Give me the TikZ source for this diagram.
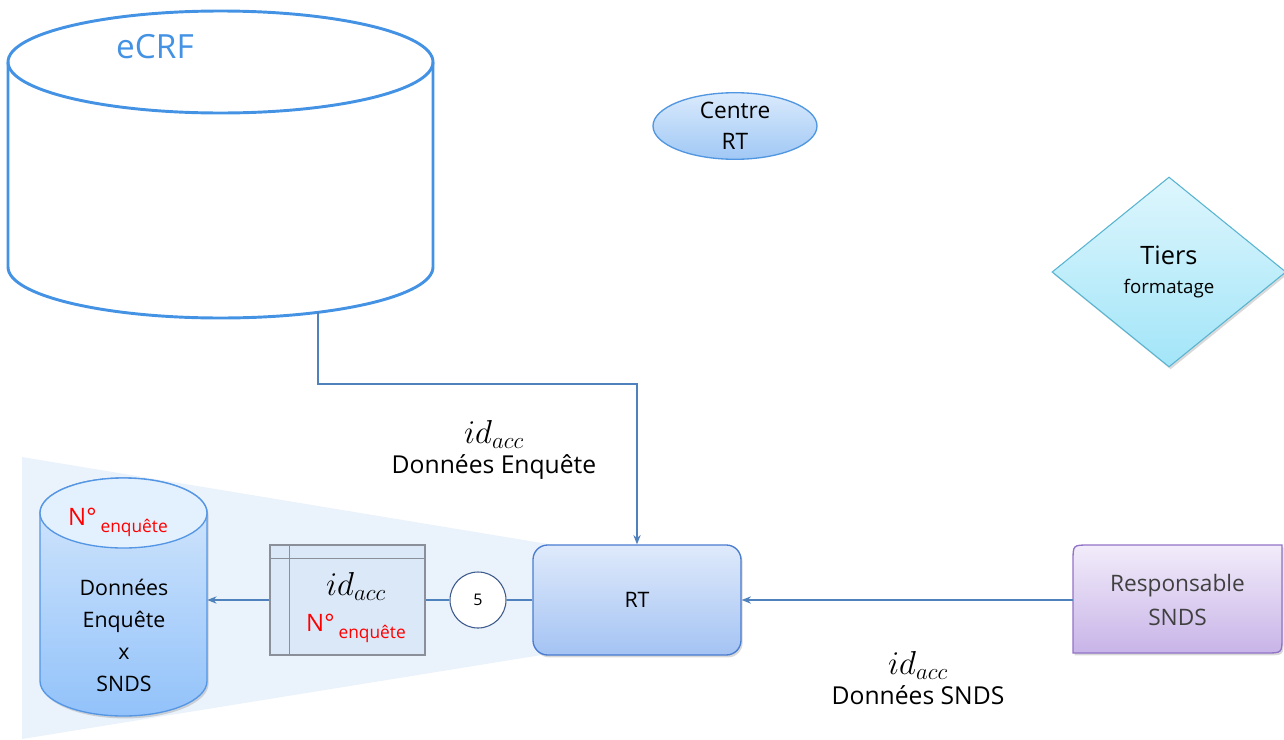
\documentclass[tikz,border=0pt]{standalone}
\usepackage{fontspec}
\setmainfont{Open Sans}
\usetikzlibrary{shapes.geometric,arrows.meta,calc,shadows}
\definecolor{ecrfblue}{RGB}{68,146,228}
\definecolor{connblue}{RGB}{79,129,189}
\definecolor{trap}{RGB}{234,242,251}
\definecolor{dbtop}{RGB}{214,232,252}
\definecolor{dbbot}{RGB}{146,194,250}
\definecolor{dbcap}{RGB}{227,240,253}
\definecolor{dbline}{RGB}{84,150,228}
\definecolor{tabfill}{RGB}{219,232,248}
\definecolor{tabline}{RGB}{138,143,153}
\definecolor{rttop}{RGB}{223,234,251}
\definecolor{rtbot}{RGB}{164,195,243}
\definecolor{rtline}{RGB}{74,124,208}
\definecolor{restop}{RGB}{242,236,250}
\definecolor{resbot}{RGB}{200,180,232}
\definecolor{resline}{RGB}{146,115,200}
\definecolor{restext}{RGB}{64,64,64}
\definecolor{dtop}{RGB}{222,246,253}
\definecolor{dbot}{RGB}{162,229,248}
\definecolor{dline}{RGB}{88,180,208}
\definecolor{ctop}{RGB}{218,234,252}
\definecolor{cbot}{RGB}{160,200,245}
\definecolor{cline}{RGB}{80,150,225}
\definecolor{circline}{RGB}{60,90,140}
\newcommand{\idacc}{{\fontsize{24}{24}\selectfont$id_{acc}$}}
\begin{document}
\begin{tikzpicture}[x=0.75pt,y=-0.75pt,
  conn/.style={draw=connblue,line width=0.9pt},
  arr/.style={conn,-{Stealth[length=7pt,width=5.5pt]}},
  shad/.style={drop shadow={shadow xshift=1.2pt,shadow yshift=-1.8pt,opacity=0.3}},
  lbl/.style={align=center,font=\fontsize{18.5}{23}\selectfont,inner sep=0pt},
  enq/.style={text=red},
]
\useasboundingbox (0,0) rectangle (1284,739);
% background trapezoid
\fill[trap] (22,457) -- (560,546) -- (560,652) -- (22,739) -- cycle;
% eCRF cylinder
\draw[ecrfblue,line width=2.2pt] (8,62) -- (8,267) arc[start angle=180,end angle=0,x radius=212.5,y radius=51] -- (433,62);
\draw[ecrfblue,line width=2.2pt] (220.5,62) ellipse[x radius=212.5,y radius=51];
\node[text=ecrfblue,font=\fontsize{25}{30}\selectfont] (ecrf) at (155,47) {eCRF};
\coordinate (ecrfout) at (318,312);
% Centre RT
\node[ellipse,draw=cline,line width=1pt,top color=ctop,bottom color=cbot,minimum width=123pt,minimum height=48pt,inner sep=0pt,align=center,font=\fontsize{17}{23}\selectfont] (centre) at (735,126) {Centre\\RT};
% Tiers diamond
\node[diamond,draw=dline,line width=0.8pt,top color=dtop,bottom color=dbot,minimum width=175.5pt,minimum height=142.5pt,inner sep=0pt,shad,align=center] (tiers) at (1169,272) {{\fontsize{19}{24}\selectfont Tiers}\\[10pt]{\fontsize{14}{16}\selectfont formatage}};
% small cylinder
\path[shad,top color=dbtop,bottom color=dbbot,draw=dbline,line width=1pt] (40,513) -- (40,681) arc[start angle=180,end angle=0,x radius=83.5,y radius=35] -- (207,513) arc[start angle=0,end angle=-180,x radius=83.5,y radius=35] -- cycle;
\draw[dbline,line width=1pt,fill=dbcap] (123.5,513) ellipse[x radius=83.5,y radius=35];
\node[inner sep=0pt,minimum width=125.25pt,minimum height=178.5pt] (db) at (123.5,597) {};
\node[enq,font=\fontsize{18}{22}\selectfont] (dbkey) at (118,522) {N°\,\raisebox{-0.55ex}{\fontsize{13}{15}\selectfont enquête}};
\node[align=center,font=\fontsize{16}{24}\selectfont] (dbtext) at (124,635) {Données\\Enquête\\x\\SNDS};
% table
\node[draw=tabline,line width=1pt,fill=tabfill,minimum width=116.25pt,minimum height=82.5pt,inner sep=0pt] (tab) at (347.5,600) {};
\draw[tabline,line width=1pt] ($(tab.north west)+(0,14)$) -- ($(tab.north east)+(0,14)$);
\draw[tabline,line width=1pt] ($(tab.north west)+(20,0)$) -- ($(tab.south west)+(20,0)$);
\node[align=center,inner sep=0pt,font=\fontsize{18}{27}\selectfont] (tabtxt) at (356,608) {\idacc\\{\color{red}N°\,\raisebox{-0.55ex}{\fontsize{13}{15}\selectfont enquête}}};
% circle 5
\node[circle,draw=circline,line width=0.8pt,fill=white,minimum size=42pt,inner sep=0pt,font=\fontsize{12}{14}\selectfont] (five) at (478,600) {5};
% RT
\node[draw=rtline,line width=1pt,rounded corners=11pt,top color=rttop,bottom color=rtbot,minimum width=156pt,minimum height=82.5pt,shad,font=\fontsize{16}{20}\selectfont] (rt) at (637,600) {RT};
% Responsable SNDS
\path[draw=resline,line width=1pt,top color=restop,bottom color=resbot,shad] (1073,653) -- (1073,561) .. controls (1073,545) .. (1089,545) -- (1282,545) -- (1282,637) .. controls (1282,653) .. (1266,653) -- cycle;
\node[align=center,text=restext,font=\fontsize{17}{25}\selectfont,minimum width=156.75pt,minimum height=81pt,inner sep=0pt] (resp) at (1177.5,600) {Responsable\\SNDS};
% connectors
\draw[arr] (ecrfout) -- (318,384 -| ecrfout) -| (rt.north);
\draw[arr] (resp.west) -- (rt.east);
\draw[conn] (rt.west) -- (five.east);
\draw[conn] (five.west) -- (tab.east);
\draw[arr] (tab.west) -- (tab.west -| db.east);
% labels
\node[lbl] (lblA) at (494,450) {\idacc\\Données Enquête};
\node[lbl] (lblB) at (918,678) {\idacc\\Données SNDS};
\end{tikzpicture}
\end{document}
